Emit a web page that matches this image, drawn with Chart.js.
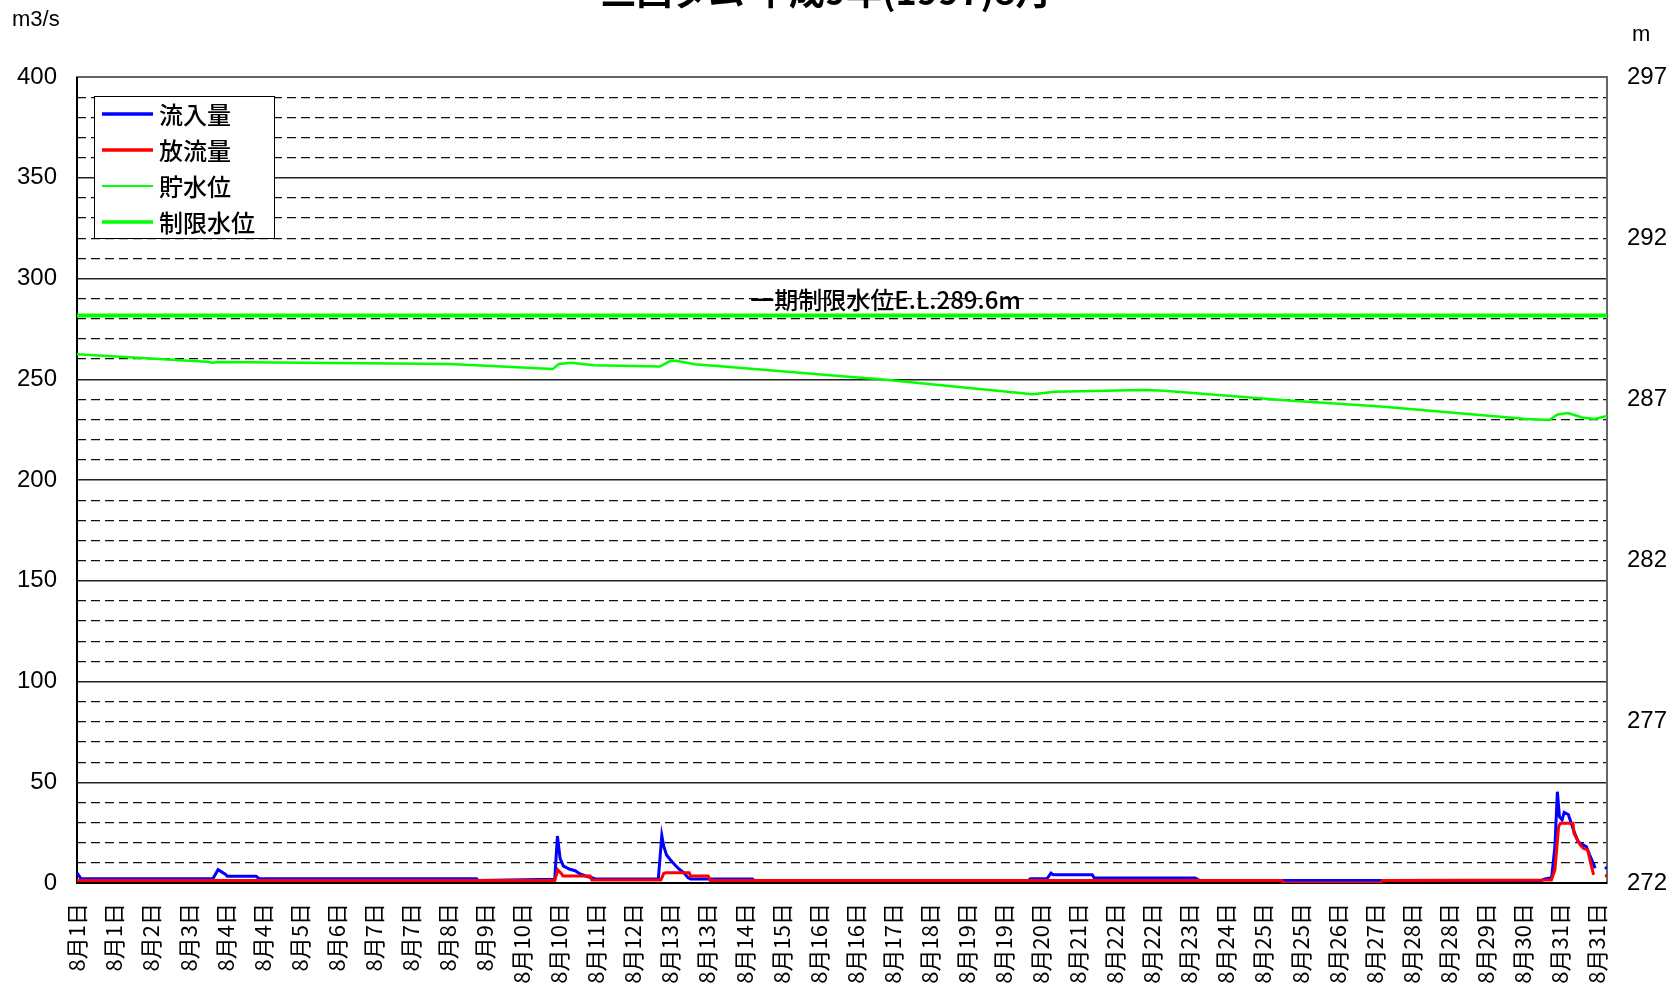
<!DOCTYPE html>
<html lang="ja">
<head>
<meta charset="utf-8">
<title>ダム管理図 8月</title>
<script src="https://cdn.jsdelivr.net/npm/chart.js@4.4.0/dist/chart.umd.min.js"></script>
<style>
  html, body { margin: 0; padding: 0; background: #fff; }
  #wrap { width: 1679px; height: 999px; position: relative; }
</style>
</head>
<body>
<div id="wrap"><canvas id="chart"></canvas></div>
<script>
// x = hours from 8/1 1:00 (hourly data, a label every 18 hours)
const dayLabels = [
  '8月1日', '8月1日', '8月2日', '8月3日', '8月4日', '8月4日', '8月5日', '8月6日',
  '8月7日', '8月7日', '8月8日', '8月9日', '8月10日', '8月10日', '8月11日', '8月12日',
  '8月13日', '8月13日', '8月14日', '8月15日', '8月16日', '8月16日', '8月17日', '8月18日',
  '8月19日', '8月19日', '8月20日', '8月21日', '8月22日', '8月22日', '8月23日', '8月24日',
  '8月25日', '8月25日', '8月26日', '8月27日', '8月28日', '8月28日', '8月29日', '8月30日',
  '8月31日', '8月31日'
];

// 流入量 (m3/s)
const inflowHours = [0, 2, 66, 68.5, 72, 73, 87, 88.5, 194, 195, 232, 233.3, 234.6, 236.2, 239.4,
  241.9, 244.3, 246.7, 250, 251.5, 282.3, 284, 285, 286.3, 288, 290.4, 292.5, 294.5, 296.8, 298,
  328, 329, 462, 463, 471, 473, 474, 493, 494, 543, 545, 711, 712.9, 716.1, 717.7, 718.9, 719.9,
  721.2, 722.2, 724.2, 725.4, 727, 729, 731.4, 733, 734.6, 736.7, 737.2, 739, 742, 743];
const inflowValues = [5.0, 2.1, 2.1, 6.6, 4.4, 3.3, 3.3, 2.1, 2.1, 1.3, 1.8, 23.3, 12.2, 8.4, 6.8,
  6.1, 4.5, 3.6, 2.6, 2.1, 2.0, 23.5, 18.0, 13.9, 11.7, 8.9, 6.8, 5.3, 2.6, 2.0,
  2.0, 1.3, 1.3, 2.1, 2.1, 4.9, 4.1, 4.1, 2.5, 2.5, 1.3, 1.3, 2.0, 2.6, 18.0, 45.3, 32.9,
  31.3, 35.0, 34.0, 30.4, 25.5, 20.5, 18.9, 18.0, 13.9, 8.9, 7.3, null, 7.8, 7.2];

// 放流量 (m3/s)
const outflowHours = [0, 232, 233.5, 235.4, 236, 249.2, 250, 283.5, 285, 286, 297.3, 298, 306.5,
  307.5, 585, 586, 633, 634, 716, 717.7, 719.5, 720.4, 726.5, 727, 730, 731.4, 733.6, 734.9,
  736.5, 739, 742, 743];
const outflowValues = [1.3, 1.2, 6.5, 4.5, 3.5, 3.5, 1.5, 1.5, 4.8, 5.1, 5.1, 3.5, 3.5,
  1.3, 1.3, 0, 0, 1.3, 1.5, 6.5, 28.0, 29.6, 29.6, 24.6, 18.9, 17.2, 16.4, 10.6,
  4.0, null, 3.6, 3.6];

// 貯水位 (m)
const levelHours = [0, 63, 66, 68, 181, 231, 234, 240, 251, 283, 288, 291, 300, 314, 379, 389,
  464, 475, 518, 528, 585, 633, 704, 715, 719, 724, 731, 737, 743];
const levelValues = [288.40, 288.17, 288.14, 288.16, 288.10, 287.94, 288.10, 288.14, 288.06,
  288.02, 288.19, 288.20, 288.09, 288.02, 287.68, 287.63, 287.16, 287.24, 287.29, 287.27,
  286.98, 286.78, 286.39, 286.36, 286.53, 286.58, 286.44, 286.39, 286.49];

// 制限水位 (m)
const limitHours = [0, 743];
const limitValues = [289.6, 289.6];

const toPoints = (xs, ys) => xs.map((x, i) => ({ x: x, y: ys[i] }));

const numFont = { family: "'Liberation Sans', Arial, sans-serif", size: 24 };
const jpFont = "'Noto Sans CJK JP', sans-serif";

const decorations = {
  id: 'decorations',
  beforeDatasetsDraw(chart) {
    const { ctx, chartArea: a, scales } = chart;
    ctx.save();
    ctx.lineWidth = 2;
    ctx.strokeStyle = '#666';
    ctx.strokeRect(a.left, a.top, a.right - a.left, a.bottom - a.top);
    ctx.strokeStyle = '#000';
    ctx.beginPath();
    ctx.moveTo(a.left, a.top);
    ctx.lineTo(a.left, a.bottom);
    ctx.lineTo(a.right, a.bottom);
    ctx.stroke();

    // limit level note
    ctx.fillStyle = '#000';
    ctx.font = '500 24px ' + jpFont;
    ctx.textAlign = 'left';
    ctx.textBaseline = 'middle';
    ctx.fillText('一期制限水位E.L.289.6m', scales.x.getPixelForValue(327), scales.y.getPixelForValue(290) + 1);
    ctx.restore();
  },
  afterDraw(chart) {
    const { ctx } = chart;
    ctx.save();
    // title (cut off at the top like the source)
    ctx.fillStyle = '#000';
    ctx.font = 'bold 36px ' + jpFont;
    ctx.textAlign = 'center';
    ctx.textBaseline = 'alphabetic';
    ctx.fillText('三国ダム 平成9年(1997)8月', 826, 5);

    // unit labels
    ctx.font = '22px ' + numFont.family;
    ctx.textBaseline = 'middle';
    ctx.textAlign = 'left';
    ctx.fillText('m3/s', 12, 20);
    ctx.fillText('m', 1632, 35);

    // legend box
    ctx.fillStyle = '#fff';
    ctx.fillRect(94, 96, 180, 142);
    ctx.strokeStyle = '#000';
    ctx.lineWidth = 1;
    ctx.strokeRect(94.5, 96.5, 180, 142);
    ctx.font = '500 24px ' + jpFont;
    chart.data.datasets.forEach((ds, i) => {
      const y = 114 + i * 36;
      ctx.strokeStyle = ds.borderColor;
      ctx.lineWidth = ds.legendWidth;
      ctx.beginPath();
      ctx.moveTo(102, y);
      ctx.lineTo(153, y);
      ctx.stroke();
      ctx.fillStyle = '#000';
      ctx.fillText(ds.label, 159, y + 1);
    });
    ctx.restore();
  }
};

new Chart(document.getElementById('chart'), {
  type: 'line',
  data: {
    datasets: [
      { label: '流入量', data: toPoints(inflowHours, inflowValues), borderColor: '#0000ff',
        borderWidth: 3, legendWidth: 3.5, yAxisID: 'y', order: 2 },
      { label: '放流量', data: toPoints(outflowHours, outflowValues), borderColor: '#ff0000',
        borderWidth: 3, legendWidth: 3.5, yAxisID: 'y', order: 1 },
      { label: '貯水位', data: toPoints(levelHours, levelValues), borderColor: '#00ff00',
        borderWidth: 2.5, legendWidth: 2, yAxisID: 'y2', order: 3 },
      { label: '制限水位', data: toPoints(limitHours, limitValues), borderColor: '#00ff00',
        borderWidth: 4, legendWidth: 3.5, yAxisID: 'y2', order: 3 }
    ]
  },
  options: {
    responsive: true,
    maintainAspectRatio: false,
    animation: false,
    layout: { padding: { top: 77, left: 0, right: 0, bottom: 0 } },
    elements: { point: { radius: 0 }, line: { tension: 0, borderCapStyle: 'butt' } },
    plugins: { legend: { display: false }, tooltip: { enabled: false } },
    scales: {
      x: {
        type: 'linear', min: 0, max: 743,
        grid: { display: false, drawTicks: false },
        border: { display: false },
        ticks: {
          stepSize: 18, autoSkip: false, includeBounds: false,
          minRotation: 90, maxRotation: 90, padding: 20, color: '#000',
          font: { family: jpFont, size: 22 },
          callback: (v) => (v % 18 === 0 ? dayLabels[v / 18] : '')
        },
        afterFit: (s) => { s.height = 116; }
      },
      y: {
        position: 'left', min: 0, max: 400,
        grid: { color: '#222', lineWidth: 1.5, drawTicks: false },
        border: { display: false },
        ticks: { stepSize: 50, padding: 20, color: '#000', font: numFont },
        afterFit: (s) => { s.width = 77; }
      },
      yMinor: {
        position: 'left', min: 0, max: 400,
        grid: {
          color: (c) => (c.tick && c.tick.value % 50 === 0 ? 'rgba(0,0,0,0)' : '#111'),
          lineWidth: 1.2, drawTicks: false
        },
        border: { display: false, dash: [9, 5] },
        ticks: { stepSize: 10, display: false },
        afterFit: (s) => { s.width = 0; }
      },
      y2: {
        position: 'right', min: 272, max: 297,
        grid: { drawOnChartArea: false, drawTicks: false },
        border: { display: false },
        ticks: { stepSize: 5, padding: 20, color: '#000', font: numFont },
        afterFit: (s) => { s.width = 72; }
      }
    }
  },
  plugins: [decorations]
});
</script>
</body>
</html>
